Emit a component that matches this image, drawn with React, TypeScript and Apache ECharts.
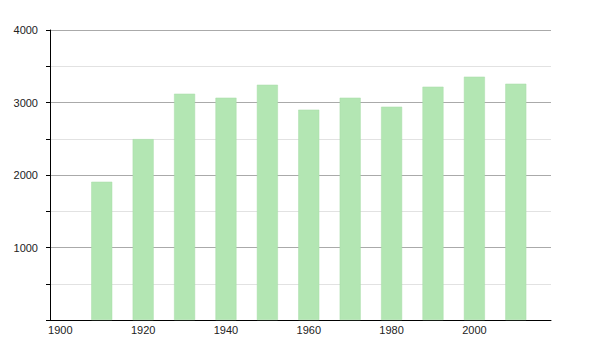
import React, { useEffect, useRef } from "react";
import * as echarts from "echarts";

const years = [1910, 1920, 1930, 1940, 1950, 1960, 1970, 1980, 1990, 2000, 2010];
const values = [1907, 2495, 3121, 3066, 3245, 2901, 3066, 2942, 3218, 3356, 3259];
const xTickLabels = [1900, 1920, 1940, 1960, 1980, 2000];
const yTickLabels = [1000, 2000, 3000, 4000];

export default function App() {
  const ref = useRef<HTMLDivElement>(null);
  useEffect(() => {
    if (!ref.current) return;
    const chart = echarts.init(ref.current, undefined, { renderer: "svg" });
    chart.setOption({
      animation: false,
      backgroundColor: "#ffffff",
      grid: { left: 50, right: 49, top: 30, bottom: 30 },
      xAxis: {
        type: "value",
        min: 1897.5,
        max: 2018.5,
        axisLine: { show: true, onZero: false, lineStyle: { color: "#000", width: 1 } },
        axisTick: { show: false },
        splitLine: { show: false },
        axisLabel: {
          customValues: xTickLabels,
          color: "#222",
          fontSize: 11,
          fontFamily: "Liberation Sans, Arial, sans-serif",
          margin: 4,
          formatter: (v: number) => String(v),
        },
      },
      yAxis: {
        type: "value",
        min: 0,
        max: 4000,
        interval: 500,
        axisLine: { show: true, lineStyle: { color: "#000", width: 1 } },
        axisTick: { show: true, length: 4, lineStyle: { color: "#000" } },
        splitLine: { show: true, lineStyle: { color: ["#aaaaaa", "#e2e2e2"], width: 1 } },
        axisLabel: {
          color: "#222",
          fontSize: 11,
          fontFamily: "Liberation Sans, Arial, sans-serif",
          margin: 12,
          formatter: (v: number) => (yTickLabels.includes(v) ? String(v) : ""),
        },
      },
      series: [
        {
          type: "bar",
          data: years.map((y, i) => [y, values[i]]),
          barWidth: 21,
          itemStyle: { color: "#b3e6b3", borderColor: "#a9dca9", borderWidth: 0.5 },
        },
      ],
    });
    return () => chart.dispose();
  }, []);
  return (
    <div
      ref={ref}
      style={{ position: "fixed", left: 0, top: 0, width: 600, height: 350 }}
    />
  );
}
